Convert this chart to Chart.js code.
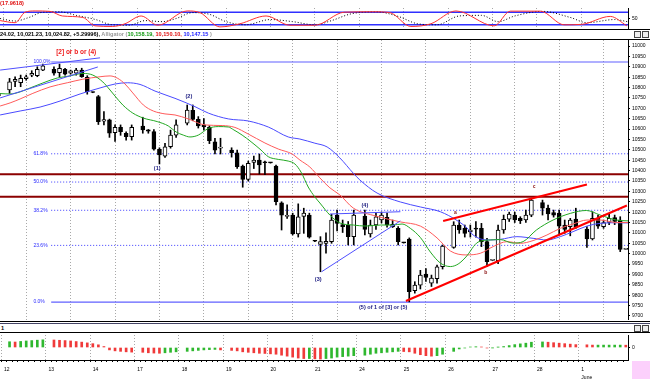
<!DOCTYPE html>
<html>
<head>
<meta charset="utf-8">
<title>Hourly bars with Alligator</title>
<script src="https://cdn.jsdelivr.net/npm/chart.js"></script>
<style>
  body { margin: 0; background: #fff; }
  #wrap { position: relative; width: 650px; height: 379px; overflow: hidden; font-family: 'Liberation Sans', Arial, sans-serif; }
  #wrap canvas { position: absolute; left: 0; }
  .rule { position: absolute; left: 0; width: 650px; height: 0; border-top: 1px solid #000; }
  .txt { position: absolute; white-space: nowrap; font-size: 5.6px; line-height: 7px; font-weight: bold; }
  .btn { position: absolute; width: 5px; height: 5px; border: 1px solid #444; background: #eee; }
</style>
</head>
<body>
<div id="wrap">
  <canvas id="oscChart" width="650" height="30" style="top:0px"></canvas>
  <canvas id="priceChart" width="650" height="280" style="top:40px"></canvas>
  <canvas id="aoChart" width="650" height="46" style="top:333px"></canvas>

  <div class="txt" style="left:0;top:0;color:#e01010">(17.9618)</div>
  <div class="rule" style="top:29px"></div>
  <div class="txt" style="left:0;top:31px;color:#000">24.02, 10,021.23, 10,024.82, +5.29996), <span style="color:#999">Alligator</span> <span style="color:#999">(</span><span style="color:#139a13">10,158.19,</span> <span style="color:#e01010">10,150.10,</span> <span style="color:#1a1aff">10,147.15</span> <span style="color:#999">)</span></div>
  <div class="rule" style="top:39px"></div>
  <div class="rule" style="top:321px"></div>
  <div class="rule" style="top:323px;border-color:#446"></div>
  <div class="txt" style="left:1px;top:325px;color:#000">1</div>
  <div class="rule" style="top:332px"></div>
  <div class="btn" style="left:634px;top:31px"></div><div class="btn" style="left:642px;top:31px"></div>
  <div class="btn" style="left:634px;top:325px"></div><div class="btn" style="left:642px;top:325px"></div>
  <div style="position:absolute;left:632px;top:361px;width:18px;height:18px;background:#fcd0fc"></div>
</div>

<script>
// ---------- data ----------
// hourly slots, first slot k = -1 (last bar of 11 May); slot 0, 8, 16 ... is the day break
const firstSlot = -1;
const opens = [10760,
  null, 10788, 10830, 10823, 10843, 10859, 10857, 10884,   // 12
  null, 10888, 10872, 10888, 10869, 10869, 10884, 10849,   // 13
  10777, 10756, 10638, 10644, 10583, 10609, 10580, 10563,  // 14
  null, 10615, 10596, 10588, 10503, 10470, 10515, 10571,   // 17
  null, 10628, 10690, 10647, 10620, 10608, 10539, 10508,   // 18
  null, 10499, 10486, 10422, 10358, 10440, 10451, 10440,   // 19
  10438, 10422, 10245, 10180, 10186, 10095, 10180, 10186,  // 20
  10062, 10045, 10050, 10058, 10186, 10140, 10138, 10082,  // 21
  null, 10181, 10095, 10138, 10162, 10175, 10130, 10122,   // 24
  10053, 10070, 9822, 9849, 9902, 9858, 9880, 9937,        // 25
  null, 10030, 10138, 10122, 10105, 10120, 10122, 10058,   // 26
  9968, 9966, 10114, 10166, 10186, 10170, 10162, 10186,    // 27
  null, 10246, 10219, 10198, 10195, 10138, 10130, 10167,   // 28
  null, 10119, 10071, 10170, 10130, 10150, 10174, 10162,   // 1 June
  10021];
const highs = [10780,
  null, 10844, 10852, 10860, 10860, 10881, 10900, 10913,
  null, 10900, 10913, 10893, 10884, 10893, 10893, 10857,
  10779, 10762, 10684, 10648, 10620, 10620, 10587, 10620,
  null, 10657, 10598, 10598, 10510, 10531, 10595, 10644,
  null, 10716, 10716, 10660, 10650, 10616, 10555, 10556,
  null, 10510, 10499, 10427, 10446, 10470, 10480, 10446,
  10440, 10427, 10250, 10235, 10195, 10240, 10219, 10195,
  10064, 10082, 10100, 10190, 10210, 10162, 10155, 10210,
  null, 10210, 10162, 10195, 10200, 10195, 10162, 10130,
  10055, 10076, 9865, 9920, 9928, 9897, 9945, 10042,
  null, 10154, 10162, 10138, 10138, 10155, 10146, 10074,
  9970, 10138, 10186, 10200, 10200, 10178, 10210, 10267,
  null, 10258, 10234, 10210, 10210, 10162, 10170, 10219,
  null, 10130, 10202, 10186, 10162, 10190, 10186, 10178,
  10025];
const lows = [10750,
  null, 10772, 10804, 10804, 10835, 10852, 10852, 10881,
  null, 10860, 10852, 10860, 10864, 10860, 10849, 10768,
  10775, 10622, 10620, 10560, 10540, 10570, 10547, 10547,
  null, 10580, 10580, 10499, 10432, 10464, 10508, 10560,
  null, 10620, 10640, 10605, 10596, 10530, 10480, 10480,
  null, 10465, 10410, 10320, 10350, 10410, 10384, 10380,
  10436, 10235, 10114, 10170, 10090, 10080, 10098, 10075,
  10058, 9913, 10002, 10050, 10110, 10102, 10042, 10042,
  null, 10090, 10080, 10117, 10148, 10128, 10126, 10042,
  10051, 9768, 9810, 9830, 9866, 9842, 9858, 9926,
  null, 10026, 10098, 10080, 10080, 10080, 10034, 9938,
  9966, 9952, 10098, 10155, 10150, 10145, 10150, 10178,
  null, 10186, 10162, 10176, 10090, 10098, 10086, 10122,
  null, 10030, 10066, 10122, 10122, 10140, 10140, 10010,
  10021];
const closes = [10772,
  null, 10828, 10840, 10844, 10852, 10868, 10888, 10904,
  null, 10869, 10893, 10864, 10880, 10884, 10852, 10780,
  10776, 10636, 10646, 10580, 10609, 10587, 10563, 10609,
  null, 10596, 10590, 10503, 10475, 10515, 10571, 10620,
  null, 10692, 10647, 10615, 10610, 10544, 10499, 10512,
  null, 10486, 10419, 10358, 10435, 10451, 10427, 10438,
  10437, 10250, 10186, 10182, 10095, 10178, 10195, 10079,
  10060, 10058, 10060, 10162, 10146, 10130, 10082, 10186,
  null, 10117, 10138, 10178, 10186, 10138, 10141, 10058,
  10052, 9817, 9849, 9897, 9886, 9882, 9937, 10037,
  null, 10138, 10114, 10098, 10114, 10118, 10058, 9962,
  9968, 10114, 10166, 10191, 10162, 10159, 10186, 10258,
  null, 10219, 10191, 10186, 10133, 10117, 10162, 10130,
  null, 10071, 10170, 10133, 10150, 10170, 10155, 10020,
  10025];

// Alligator lines (slot, price)
const lipsK = [-0.7, 1.1, 2.9, 4.7, 7.0, 9.6, 11.9, 14.2, 16.0, 17.8, 19.1, 20.0, 21.4, 23.2, 25.1, 27.6, 29.6, 31.0, 32.3, 33.5, 35.0, 36.8, 38.6, 40.4, 41.4, 42.9, 44.5, 46.3, 47.6, 49.4, 51.2, 52.4, 53.5, 54.8, 56.0, 56.9, 58.7, 60.5, 62.9, 65.2, 67.8, 70.1, 71.7, 73.2, 75.0, 76.8, 78.6, 80.4, 81.8, 83.2, 85.4, 87.6, 89.4, 91.7, 93.5, 95.9, 98.9, 102.0, 104.9, 107.4, 110.3, 112.4];
const lipsV = [10771, 10769, 10779, 10798, 10822, 10846, 10856, 10868, 10860, 10827, 10788, 10759, 10716, 10677, 10653, 10636, 10615, 10586, 10571, 10562, 10571, 10603, 10612, 10610, 10596, 10571, 10539, 10499, 10467, 10454, 10446, 10432, 10393, 10321, 10273, 10244, 10186, 10148, 10138, 10133, 10138, 10138, 10143, 10122, 10078, 10008, 9955, 9938, 9950, 9984, 10056, 10066, 10068, 10051, 10058, 10114, 10162, 10194, 10208, 10186, 10162, 10158];
const teethK = [-0.7, 1.1, 2.9, 5.2, 8.3, 11.4, 14.2, 17.3, 19.1, 20.5, 21.8, 23.2, 25.1, 26.9, 29.0, 30.8, 33.2, 36.2, 39.3, 41.6, 44.0, 47.0, 49.4, 51.9, 53.3, 55.1, 56.9, 58.7, 60.5, 62.9, 67.0, 71.4, 75.0, 78.0, 80.4, 83.2, 85.8, 88.1, 90.6, 93.0, 95.3, 97.8, 100.2, 102.5, 105.0, 107.4, 110.3, 112.4];
const teethV = [10711, 10726, 10745, 10772, 10803, 10823, 10840, 10852, 10856, 10844, 10817, 10774, 10716, 10687, 10673, 10668, 10649, 10620, 10617, 10608, 10576, 10533, 10504, 10480, 10451, 10417, 10365, 10317, 10283, 10220, 10181, 10153, 10133, 10076, 10013, 9994, 10002, 10034, 10058, 10050, 10063, 10090, 10122, 10143, 10162, 10162, 10150, 10150];
const jawK = [-0.7, 2.9, 6.5, 10.1, 13.7, 17.3, 20.0, 22.2, 24.5, 27.2, 30.8, 34.4, 36.8, 40.4, 44.0, 47.6, 51.2, 53.3, 56.0, 58.2, 60.5, 62.9, 64.1, 67.2, 71.4, 75.0, 78.6, 81.6, 83.4, 84.5, 87.0, 89.4, 92.4, 95.3, 97.8, 100.2, 102.5, 105.0, 107.4, 110.5, 112.4];
const jawV = [10668, 10687, 10706, 10735, 10769, 10798, 10817, 10823, 10815, 10783, 10748, 10708, 10677, 10649, 10639, 10610, 10562, 10552, 10532, 10514, 10461, 10388, 10355, 10292, 10249, 10225, 10202, 10160, 10124, 10090, 10066, 10069, 10082, 10074, 10066, 10082, 10106, 10133, 10146, 10149, 10148];

// retracement and resistance levels
const fibLabels = ['100.0%', '61.8%', '50.0%', '38.2%', '23.6%', '0.0%'];
const fibLevels = [10923, 10481, 10345, 10209, 10040, 9767];
const redLevels = [10382, 10274];

// trend lines [slot, price]
const channelTop = [[-0.7, 10884], [17.3, 10943]];
const channelBottom = [[-0.7, 10750], [16.9, 10899]];
const wave4Low = [[57.2, 9913], [71.4, 10158]];
const wave4High = [[58.7, 10191], [71.4, 10202]];
const wedgeLow = [[72.4, 9772], [112.2, 10232]];
const wedgeHigh = [[79.1, 10157], [105.0, 10333]];

// wave labels
const noteText = ['[2] or b or (4)', '(1)', '(2)', '(3)', '(4)', '(5) of 1 of [3] or (5)', 'a', 'b', 'c'];
const noteSlot = [13, 27.6, 33.3, 56.6, 65.0, 68.3, 81.3, 86.8, 95.5];
const notePrice = [10968, 10410, 10757, 9878, 10234, 9743, 10198, 9907, 10321];

// price axis
const priceTicks = [9700, 9750, 9800, 9850, 9900, 9950, 10000, 10050, 10100, 10150, 10200, 10250, 10300, 10350, 10400, 10450, 10500, 10550, 10600, 10650, 10700, 10750, 10800, 10850, 10900, 10950, 11000];

// day breaks and labels
const daySlots = [0, 8, 16, 24, 32, 40, 48, 56, 64, 72, 80, 88, 96, 104];
const dayLabels = ['12', '13', '14', '17', '18', '19', '20', '21', '24', '25', '26', '27', '28', ['1', 'June']];

// stochastic (top panel)
const stochK = [-0.7, 2.0, 3.8, 5.6, 8.3, 10.5, 14.2, 16.4, 19.5, 21.8, 24.7, 27.7, 33.0, 35.3, 38.9, 42.5, 47.2, 51.5, 56.0, 61.3, 66.5, 69.5, 73.3, 76.9, 81.4, 88.3, 91.2, 96.6, 100.9, 104.0, 109.2, 112.2];
const stochV = [40, 30, 80, 86, 84, 62, 55, 15, 12, 25, 62, 18, 86, 78, 10, 25, 62, 18, 18, 80, 82, 78, 12, 25, 86, 15, 85, 85, 20, 22, 60, 15];
const signalK = [-0.7, 2.0, 4.5, 7.0, 10.0, 13.0, 16.5, 19.5, 22.5, 25.5, 28.5, 31.0, 34.0, 37.0, 40.0, 43.5, 48.0, 52.0, 56.0, 59.0, 62.5, 67.0, 71.0, 74.5, 78.0, 82.0, 86.0, 89.0, 92.0, 97.0, 102.0, 105.0, 110.0, 112.3];
const signalV = [50, 38, 55, 80, 82, 65, 45, 20, 18, 40, 35, 50, 78, 70, 35, 20, 45, 35, 20, 40, 72, 82, 60, 25, 20, 62, 65, 35, 62, 84, 55, 30, 45, 35];
const stochBands = [80, 20];

// oscillator histogram (bottom panel), same slots as the bars
const aoValues = [55,
  null, 60, 57, 63, 68, 72, 76, 80,
  null, 78, 75, 72, 68, 62, 56, 48,
  40, 28, 10, -25, -35, -40, -45, -48,
  null, -50, -55, -58, -60, -55, -50, -45,
  null, -40, -35, -30, -25, -22, -20, -25,
  null, -30, -35, -45, -50, -55, -60, -62,
  -66, -70, -80, -90, -100, -110, -115, -115,
  -118, -120, -115, -110, -100, -95, -90, -85,
  null, -80, -70, -60, -55, -50, -45, -40,
  -42, -45, -60, -75, -85, -90, -85, -70,
  null, -40, -15, -5, 5, 8, 5, -5,
  -3, 3, 10, 20, 30, 38, 45, 55,
  null, 58, 55, 50, 45, 40, 35, 30,
  null, 28, 25, 25, 25, 25, 25, 25,
  24];

// ---------- charts ----------
Chart.defaults.animation = false;
Chart.defaults.font.family = "'Liberation Sans', Arial, sans-serif";
Chart.defaults.plugins.legend.display = false;
Chart.defaults.plugins.tooltip.enabled = false;

const xMin = -0.72, xMax = 112.4;
const slotOf = i => firstSlot + i;
const pts = (ks, vs) => ks.map((k, i) => ({ x: k, y: vs[i] }));
const seg = p => p.map(([x, y]) => ({ x, y }));

function dayGridX(extra) {
  return Object.assign({
    type: 'linear', min: xMin, max: xMax, offset: false,
    afterBuildTicks: s => { s.ticks = daySlots.map(v => ({ value: v })); },
    ticks: { display: false },
    grid: { color: '#a8a8a8', drawTicks: false },
    border: { display: false, dash: [1, 2] },
    afterFit: s => { s.height = 0; }
  }, extra || {});
}
function rightAxis(extra) {
  return Object.assign({
    position: 'right',
    grid: { drawOnChartArea: false, tickLength: 2, tickColor: '#000' },
    border: { display: true, color: '#000' },
    ticks: { color: '#000', font: { size: 5 }, padding: 2 },
    afterFit: s => { s.width = 22; s.paddingTop = 0; s.paddingBottom = 0; }
  }, extra || {});
}
const line = (data, color, width, order, extra) => Object.assign({
  type: 'line', data, borderColor: color, borderWidth: width, pointRadius: 0, order, fill: false
}, extra || {});

// candles
const bodies = [], wicks = [], bodyFill = [];
opens.forEach((o, i) => {
  if (o === null) return;
  bodies.push({ x: slotOf(i), y: [o, closes[i]] });
  wicks.push({ x: slotOf(i), y: [lows[i], highs[i]] });
  bodyFill.push(closes[i] >= o ? '#ffffff' : '#000000');
});

const notesPlugin = {
  id: 'notes',
  afterDatasetsDraw(chart) {
    const { ctx, scales: { x, y } } = chart;
    ctx.save();
    ctx.textBaseline = 'middle';
    ctx.font = "5px 'Liberation Sans', Arial";
    ctx.fillStyle = '#2b2bff';
    ctx.textAlign = 'left';
    fibLabels.forEach((t, i) => ctx.fillText(t, x.getPixelForValue(5.3), y.getPixelForValue(fibLevels[i])));
    ctx.textAlign = 'center';
    noteText.forEach((t, i) => {
      const first = i === 0;
      const small = t.length === 1;
      ctx.font = (first ? "bold 6.5px" : small ? "bold 5px" : "bold 5.5px") + " 'Liberation Sans', Arial";
      ctx.fillStyle = first ? '#ee1c1c' : small ? '#8a1010' : '#1c1c80';
      ctx.fillText(t, x.getPixelForValue(noteSlot[i]), y.getPixelForValue(notePrice[i]));
    });
    ctx.restore();
  }
};

const horiz = [];
fibLevels.forEach((v, i) => {
  const solid = i === 0 || i === fibLevels.length - 1;
  horiz.push(line([{ x: 8.5, y: v }, { x: xMax, y: v }], solid ? '#6060ff' : '#3a3aff', solid ? 1.2 : 1, 6,
    solid ? {} : { borderDash: [1, 2] }));
});
redLevels.forEach(v => horiz.push(line([{ x: xMin, y: v }, { x: xMax, y: v }], '#8b0000', 2, 6)));

new Chart(document.getElementById('priceChart'), {
  type: 'bar',
  data: {
    datasets: [
      line(seg(wedgeLow), '#ff0000', 2, 0),
      line(seg(wedgeHigh), '#ff0000', 2, 0),
      line(seg(channelTop), '#4f4fff', 1, 0),
      line(seg(channelBottom), '#4f4fff', 1, 0),
      line(seg(wave4Low), '#4f4fff', 1, 0),
      line(seg(wave4High), '#4f4fff', 1, 0),
      line(pts(lipsK, lipsV), '#22a822', 1, 1, { cubicInterpolationMode: 'monotone' }),
      line(pts(teethK, teethV), '#ff5a5a', 1, 1, { cubicInterpolationMode: 'monotone' }),
      line(pts(jawK, jawV), '#4a4aff', 1, 1, { cubicInterpolationMode: 'monotone' }),
      { type: 'bar', data: bodies, backgroundColor: bodyFill, borderColor: '#000', borderWidth: 1,
        borderSkipped: false, barThickness: 4, minBarLength: 1, grouped: false, order: 2 },
      { type: 'bar', data: wicks, backgroundColor: '#000', borderWidth: 0,
        barThickness: 1, grouped: false, order: 3 },
      ...horiz
    ]
  },
  options: {
    responsive: false, events: [],
    layout: { padding: 0 },
    scales: {
      x: dayGridX(),
      y: rightAxis({
        min: 9680.7, max: 11028.9,
        afterBuildTicks: s => { s.ticks = priceTicks.map(v => ({ value: v })); },
        ticks: { color: '#000', font: { size: 5 }, padding: 2, callback: v => String(v) }
      })
    }
  },
  plugins: [notesPlugin]
});

new Chart(document.getElementById('oscChart'), {
  type: 'line',
  data: {
    datasets: [
      line(pts(stochK, stochV), '#ff3030', 1, 0, { cubicInterpolationMode: 'monotone' }),
      line(pts(signalK, signalV), '#000', 1, 1, { cubicInterpolationMode: 'monotone', borderDash: [1, 2] }),
      ...stochBands.map(b => line([{ x: xMin, y: b }, { x: xMax, y: b }], '#3030ff', 1.5, 2))
    ]
  },
  options: {
    responsive: false, events: [],
    layout: { padding: { top: 8, bottom: 1 } },
    scales: {
      x: dayGridX(),
      y: rightAxis({
        min: 0, max: 100,
        afterBuildTicks: s => { s.ticks = [{ value: 50 }]; }
      })
    }
  }
});

const aoData = [], aoColors = [];
let prev = null;
aoValues.forEach((v, i) => {
  if (v === null) return;
  aoData.push({ x: slotOf(i), y: v });
  aoColors.push(prev === null || v >= prev ? '#2fb82f' : '#f03a3a');
  prev = v;
});

new Chart(document.getElementById('aoChart'), {
  type: 'bar',
  data: { datasets: [{ data: aoData, backgroundColor: aoColors, barThickness: 2, grouped: false }] },
  options: {
    responsive: false, events: [],
    layout: { padding: { top: 2 } },
    scales: {
      x: {
        type: 'linear', min: xMin, max: xMax, offset: false,
        afterBuildTicks: s => {
          const t = [];
          for (let i = 0; i < opens.length; i++) t.push({ value: slotOf(i) });
          s.ticks = t;
        },
        ticks: {
          autoSkip: false, maxRotation: 0, align: 'start', padding: 4,
          color: '#000', font: { size: 5, lineHeight: 1.5 },
          callback: v => { const d = daySlots.indexOf(v); return d >= 0 ? dayLabels[d] : ''; }
        },
        grid: {
          color: c => (c.tick && daySlots.includes(c.tick.value)) ? '#a8a8a8' : 'rgba(0,0,0,0)',
          tickColor: '#000', tickLength: 2
        },
        border: { display: true, color: '#000', dash: [1, 2] },
        afterFit: s => { s.height = 19; s.paddingLeft = 0; s.paddingRight = 0; }
      },
      y: rightAxis({
        min: -130, max: 130,
        afterBuildTicks: s => { s.ticks = [{ value: 0 }]; }
      })
    }
  }
});
</script>
</body>
</html>
